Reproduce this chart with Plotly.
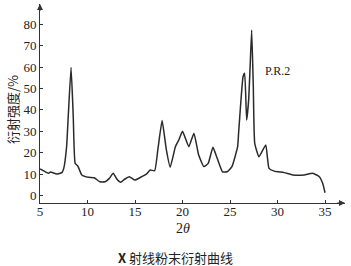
import plotly.graph_objects as go

two_theta = [5.0, 5.9, 6.1, 6.76, 7.3, 7.5, 7.8, 7.97, 8.27, 8.5, 8.7, 8.98, 9.4, 10.1, 10.7,
             11.3, 11.85, 12.3, 12.7, 13.1, 13.5, 13.9, 14.4, 15.0, 15.7, 16.2, 16.6, 17.07,
             17.4, 17.85, 18.3, 18.7, 19.25, 19.6, 20.0, 20.66, 21.2, 21.7, 22.25, 22.7, 23.2,
             23.65, 24.2, 24.7, 25.2, 25.8, 25.9, 26.1, 26.37, 26.54, 26.75, 26.96, 27.1, 27.28,
             27.45, 27.6, 28.05, 28.76, 29.1, 29.65, 30.7, 31.6, 32.8, 33.7, 34.4, 34.75, 35.0]
intensity = [12.4, 10.4, 11.0, 10.0, 10.7, 12.7, 22.8, 36.8, 59.9, 36.8, 15.0, 13.8, 9.6, 8.5, 8.3,
             6.4, 6.4, 8.0, 10.4, 7.6, 6.2, 7.6, 8.8, 7.2, 8.8, 10.0, 11.9, 11.6,
             21.3, 35.0, 21.3, 13.2, 22.8, 25.9, 30.0, 22.8, 29.1, 18.9, 13.5, 15.0, 22.5,
             17.4, 11.1, 11.1, 13.5, 22.8, 29.1, 41.5, 55.5, 57.1, 35.3, 44.6, 58.6, 77.3,
             50.8, 24.4, 18.1, 23.6, 12.7, 11.4, 10.7, 9.6, 9.6, 10.4, 8.8, 5.7, 1.3]

x_ticks = [5, 10, 15, 20, 25, 30, 35]
y_ticks = [0, 10, 20, 30, 40, 50, 60, 70, 80]

X_MIN, X_MAX = 5, 37.1
Y_MIN, Y_MAX = -3.5, 89.5

serif = "Liberation Serif, Times New Roman, serif"
cjk = "Noto Sans CJK SC"

fig = go.Figure()
fig.add_trace(go.Scatter(x=two_theta, y=intensity, mode="lines",
                         line=dict(color="#2a2a2a", width=1.5, shape="spline", smoothing=0.4),
                         hoverinfo="skip", showlegend=False))

fig.update_layout(
    width=351, height=266,
    margin=dict(l=40, r=6, t=4, b=63),
    paper_bgcolor="white", plot_bgcolor="white",
    xaxis=dict(range=[X_MIN, X_MAX], tickvals=x_ticks, ticktext=[str(v) for v in x_ticks],
               ticks="inside", ticklen=3, tickcolor="#333", showline=True, linecolor="#333",
               linewidth=1, showgrid=False, zeroline=False, ticklabelstandoff=-4,
               tickfont=dict(family=serif, size=13, color="#222")),
    yaxis=dict(range=[Y_MIN, Y_MAX], tickvals=y_ticks, ticktext=[str(v) for v in y_ticks],
               ticks="inside", ticklen=3, tickcolor="#333", showline=True, linecolor="#333",
               linewidth=1, showgrid=False, zeroline=False,
               tickfont=dict(family=serif, size=13, color="#222")),
    font=dict(family=serif, color="#222"),
)

# arrowheads at axis ends
fig.add_annotation(x=X_MAX, y=Y_MIN, ax=X_MAX - 1, ay=Y_MIN, xref="x", yref="y",
                   axref="x", ayref="y", showarrow=True, arrowhead=2, arrowsize=1.2,
                   arrowwidth=1, arrowcolor="#333", text="")
fig.add_annotation(x=X_MIN, y=Y_MAX, ax=X_MIN, ay=Y_MAX - 4, xref="x", yref="y",
                   axref="x", ayref="y", showarrow=True, arrowhead=2, arrowsize=1.2,
                   arrowwidth=1, arrowcolor="#333", text="")

fig.add_annotation(x=30.0, y=58.0, xref="x", yref="y", text="P.R.2", showarrow=False,
                   xanchor="center", yanchor="middle",
                   font=dict(family=serif, size=12, color="#222"))

fig.add_annotation(xref="paper", yref="paper", x=-28 / 305, y=(203 - 110) / 199,
                   xanchor="center", yanchor="middle",
                   text="衍射强度/%", textangle=-90, showarrow=False,
                   font=dict(family=cjk, size=13, color="#222"))

fig.add_annotation(xref="paper", yref="paper", x=(183 - 40) / 305, y=(203 - 229) / 199,
                   xanchor="center", yanchor="middle",
                   text="2<i>θ</i>", showarrow=False,
                   font=dict(family=serif, size=14, color="#222"))

fig.add_annotation(xref="paper", yref="paper", x=(175 - 40) / 305, y=(203 - 257) / 199,
                   xanchor="center", yanchor="middle",
                   text="<b>X</b> 射线粉末衍射曲线", showarrow=False,
                   font=dict(family=cjk, size=13, color="#222"))

fig.write_html("out.html")
